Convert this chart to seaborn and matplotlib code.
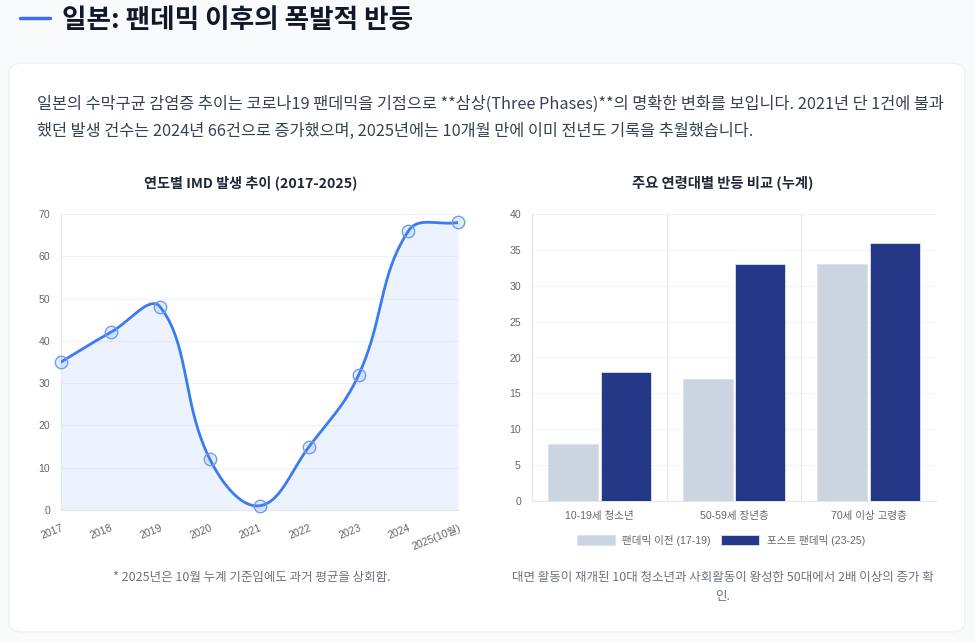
import numpy as np
import pandas as pd
import matplotlib
matplotlib.use("Agg")
import matplotlib.pyplot as plt
import seaborn as sns
from matplotlib.patches import FancyBboxPatch, Patch
from matplotlib.lines import Line2D

# ---------------- data ----------------
years = ["2017", "2018", "2019", "2020", "2021", "2022", "2023", "2024", "2025(10월)"]
cases = [35, 42, 48, 12, 1, 15, 32, 66, 68]

age_groups = ["10-19세 청소년", "50-59세 장년층", "70세 이상 고령층"]
pre_pandemic = [8, 17, 33]
post_pandemic = [18, 33, 36]
series_names = ["팬데믹 이전 (17-19)", "포스트 팬데믹 (23-25)"]

title = "일본: 팬데믹 이후의 폭발적 반등"
para1 = "일본의 수막구균 감염증 추이는 코로나19 팬데믹을 기점으로 **삼상(Three Phases)**의 명확한 변화를 보입니다. 2021년 단 1건에 불과"
para2 = "했던 발생 건수는 2024년 66건으로 증가했으며, 2025년에는 10개월 만에 이미 전년도 기록을 추월했습니다."
left_title = "연도별 IMD 발생 추이 (2017-2025)"
right_title = "주요 연령대별 반등 비교 (누계)"
left_note = "* 2025년은 10월 누계 기준임에도 과거 평균을 상회함."
right_note = "대면 활동이 재개된 10대 청소년과 사회활동이 왕성한 50대에서 2배 이상의 증가 확\n인."

# ---------------- style ----------------
sns.set_theme(style="white")
plt.rcParams["font.family"] = ["Noto Sans CJK KR", "DejaVu Sans"]
TICK_FONT = ["Liberation Sans", "Noto Sans CJK KR", "DejaVu Sans"]

W, H = 975, 642
fig = plt.figure(figsize=(W / 100, H / 100), dpi=100)
fig.patch.set_facecolor("#f8fafc")

def fx(px):
    return px / W

def fy(py):
    return 1 - py / H

# card
card = FancyBboxPatch((fx(9), fy(632)), fx(965) - fx(9), fy(63) - fy(632),
                      boxstyle="round,pad=0,rounding_size=0.015",
                      transform=fig.transFigure, facecolor="white",
                      edgecolor="#eef0f3", linewidth=1, zorder=-10)
fig.patches.append(card)

# header
fig.add_artist(Line2D([fx(20), fx(50)], [fy(18), fy(18)], transform=fig.transFigure,
                      color="#3b6ef0", linewidth=2.5))
fig.text(fx(62), fy(20), title, fontsize=19.2, fontweight="bold", color="#111827",
         va="center", ha="left")

fig.text(fx(37), fy(104), para1, fontsize=11.75, color="#374151", va="center", ha="left")
fig.text(fx(37), fy(131), para2, fontsize=11.75, color="#374151", va="center", ha="left")

fig.text(fx(251), fy(183), left_title, fontsize=10.2, fontweight="bold", color="#1f2937",
         ha="center", va="center")
fig.text(fx(723), fy(183), right_title, fontsize=10.3, fontweight="bold", color="#1f2937",
         ha="center", va="center")

# ---------------- left chart ----------------
axL = fig.add_axes([fx(61), fy(510), fx(458) - fx(61), fy(214) - fy(510)])
xi = np.arange(len(years), dtype=float)
yv = np.array(cases, dtype=float)

# Chart.js-style smooth curve (tension 0.4) through the data points
sx, sy = 49.6, 296 / 70  # pixel per unit for distance weighting
tension = 0.4
n = len(xi)
cp_prev = np.zeros((n, 2))
cp_next = np.zeros((n, 2))
for i in range(n):
    p0 = np.array([xi[max(i - 1, 0)], yv[max(i - 1, 0)]])
    p1 = np.array([xi[i], yv[i]])
    p2 = np.array([xi[min(i + 1, n - 1)], yv[min(i + 1, n - 1)]])
    d01 = np.hypot((p1[0] - p0[0]) * sx, (p1[1] - p0[1]) * sy)
    d12 = np.hypot((p2[0] - p1[0]) * sx, (p2[1] - p1[1]) * sy)
    tot = d01 + d12
    s01 = d01 / tot if tot else 0
    s12 = d12 / tot if tot else 0
    cp_prev[i] = p1 - tension * s01 * (p2 - p0)
    cp_next[i] = p1 + tension * s12 * (p2 - p0)
    for cp in (cp_prev[i], cp_next[i]):
        cp[1] = min(max(cp[1], 0), 70)
        cp[0] = min(max(cp[0], 0), n - 1)

curve_x, curve_y = [], []
t = np.linspace(0, 1, 40)
for i in range(n - 1):
    P0 = np.array([xi[i], yv[i]])
    P1 = cp_next[i]
    P2 = cp_prev[i + 1]
    P3 = np.array([xi[i + 1], yv[i + 1]])
    B = ((1 - t)[:, None] ** 3) * P0 + 3 * ((1 - t)[:, None] ** 2) * t[:, None] * P1 \
        + 3 * (1 - t)[:, None] * (t[:, None] ** 2) * P2 + (t[:, None] ** 3) * P3
    curve_x.extend(B[:, 0])
    curve_y.extend(B[:, 1])
curve = pd.DataFrame({"x": curve_x, "y": curve_y})

axL.fill_between(curve["x"], 0, curve["y"], color="#3b82f6", alpha=0.09, linewidth=0, zorder=1)
sns.lineplot(data=curve, x="x", y="y", ax=axL, color="#3b7bf0", linewidth=2.0,
             sort=False, estimator=None, zorder=3)
pts = pd.DataFrame({"x": xi, "y": yv})
sns.scatterplot(data=pts, x="x", y="y", ax=axL, s=80, facecolor=(0.23, 0.51, 0.96, 0.15),
                edgecolor="#6e9cf3", linewidth=1.0, zorder=4, clip_on=False)

axL.set_xlim(0, n - 1)
axL.set_ylim(0, 70)
axL.set_xticks(xi)
axL.set_xticklabels(years, rotation=22, ha="right", rotation_mode="anchor",
                    family=TICK_FONT)
axL.set_yticks(np.arange(0, 71, 10))
for lab in axL.get_yticklabels():
    lab.set_family(TICK_FONT)
axL.tick_params(axis="both", labelsize=7.6, labelcolor="#666666", length=0)
axL.tick_params(axis="x", pad=9)
axL.tick_params(axis="y", pad=8)
axL.set_xlabel("")
axL.set_ylabel("")
axL.grid(axis="y", color="#f1f3f5", linewidth=0.8)
axL.grid(axis="x", visible=False)
for s in ["top", "right"]:
    axL.spines[s].set_visible(False)
for s in ["left", "bottom"]:
    axL.spines[s].set_color("#e5e7eb")
    axL.spines[s].set_linewidth(0.8)
axL.set_facecolor("none")

fig.text(fx(252), fy(578), left_note, fontsize=9.0, style="italic", color="#6b7280",
         ha="center", va="center")

# ---------------- right chart ----------------
axR = fig.add_axes([fx(532), fy(501), fx(936) - fx(532), fy(214) - fy(501)])
bar_df = pd.DataFrame({
    "group": age_groups * 2,
    "value": pre_pandemic + post_pandemic,
    "series": [series_names[0]] * 3 + [series_names[1]] * 3,
})
palette = {series_names[0]: "#cbd5e1", series_names[1]: "#253887"}
sns.barplot(data=bar_df, x="group", y="value", hue="series", ax=axR, palette=palette,
            width=0.78, gap=0.05, saturation=1, edgecolor="#dbe3ee", linewidth=0.6,
            legend=False, zorder=3)
axR.set_xlim(-0.5, 2.5)
axR.set_ylim(0, 40)
axR.set_yticks(np.arange(0, 41, 5))
axR.set_xlabel("")
axR.set_ylabel("")
for lab in axR.get_xticklabels() + axR.get_yticklabels():
    lab.set_family(TICK_FONT)
axR.tick_params(axis="both", labelsize=7.6, labelcolor="#666666", length=0)
axR.tick_params(axis="x", pad=7)
axR.tick_params(axis="y", pad=8)
axR.set_xticks([-0.5, 0.5, 1.5, 2.5], minor=True)
axR.tick_params(axis="x", which="minor", length=6, color="#e5e7eb", width=0.8)
axR.grid(axis="y", color="#f1f3f5", linewidth=0.8, zorder=0)
axR.grid(axis="x", which="minor", color="#e5e7eb", linewidth=0.8, zorder=0)
axR.grid(axis="x", which="major", visible=False)
for s in ["top", "right"]:
    axR.spines[s].set_visible(False)
for s in ["left", "bottom"]:
    axR.spines[s].set_color("#e5e7eb")
    axR.spines[s].set_linewidth(0.8)
axR.set_facecolor("none")

handles = [Patch(facecolor=palette[s], edgecolor="#dbe3ee", linewidth=0.6) for s in series_names]
fig.legend(handles, series_names, loc="center", bbox_to_anchor=(fx(721), fy(540)),
           ncol=2, frameon=False, prop={"family": TICK_FONT, "size": 7.6},
           labelcolor="#666666",
           handlelength=3.6, handleheight=1.1, handletextpad=0.7, columnspacing=1.0)

fig.text(fx(723), fy(587), right_note, fontsize=9.0, color="#6b7280",
         ha="center", va="center", linespacing=1.6)

fig.savefig("out.png", dpi=100, facecolor=fig.get_facecolor())
